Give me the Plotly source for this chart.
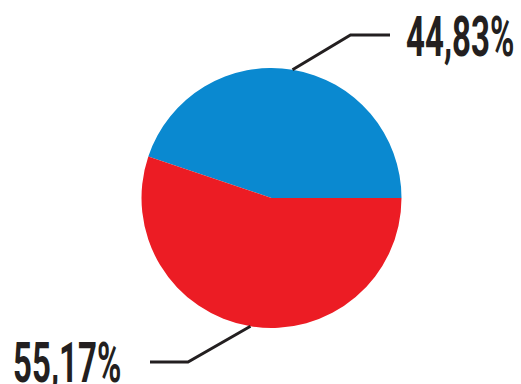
import math
import plotly.graph_objects as go

labels = ["A", "B"]
values = [44.83, 55.17]
text_labels = ["44,83%", "55,17%"]
colors = ["#0A89D0", "#EC1C24"]

W, H = 521, 384
cx, cy, r = 271.5, 198.0, 130.0
total = sum(values)
# blue slice ends at 3 o'clock; slices drawn clockwise
rotation = 90 - 360 * values[0] / total

fig = go.Figure(go.Pie(
    labels=labels, values=values, sort=False, direction="clockwise",
    rotation=rotation, marker=dict(colors=colors, line=dict(width=0)),
    textinfo="none", hoverinfo="none", showlegend=False,
    domain=dict(x=[(cx - r) / W, (cx + r) / W], y=[1 - (cy + r) / H, 1 - (cy - r) / H]),
))

def px(x, y):
    return x / W, 1 - y / H

start = 0.0
label_geo = [
    dict(ex=350.5, ey=35, endx=390, tx=459.5, ty=37),
    dict(ex=188, ey=362, endx=150, tx=66.5, ty=363),
]
font_family = "Roboto, Liberation Sans, sans-serif"
for v, t, g in zip(values, text_labels, label_geo):
    span = 360 * v / total
    mid = math.radians(start + span / 2)
    start += span
    sx = cx + r * math.cos(mid)
    sy = cy - r * math.sin(mid)
    x0, y0 = px(sx, sy)
    x1, y1 = px(g["ex"], g["ey"])
    x2, y2 = px(g["endx"], g["ey"])
    fig.add_shape(type="path", xref="paper", yref="paper",
                  path=f"M {x0} {y0} L {x1} {y1} L {x2} {y2}",
                  line=dict(color="#231F20", width=3))
    tx, ty = px(g["tx"], g["ty"])
    fig.add_annotation(x=tx, y=ty, xref="paper", yref="paper", text=t,
                       showarrow=False, xanchor="center", yanchor="middle",
                       font=dict(family=font_family, size=55, color="#231F20", weight="bold"))

fig.update_layout(width=W, height=H, margin=dict(l=0, r=0, t=0, b=0),
                  paper_bgcolor="white", plot_bgcolor="white")

post = """
document.body.style.margin='0';
var gd=document.getElementById('{plot_id}');
gd.querySelectorAll('.annotation-text').forEach(function(t){
  t.style.transformBox='fill-box';
  t.style.transformOrigin='center';
  t.style.transform='scaleX(0.6)';
});
"""
fig.write_html("out.html", post_script=post, config={"displayModeBar": False})
